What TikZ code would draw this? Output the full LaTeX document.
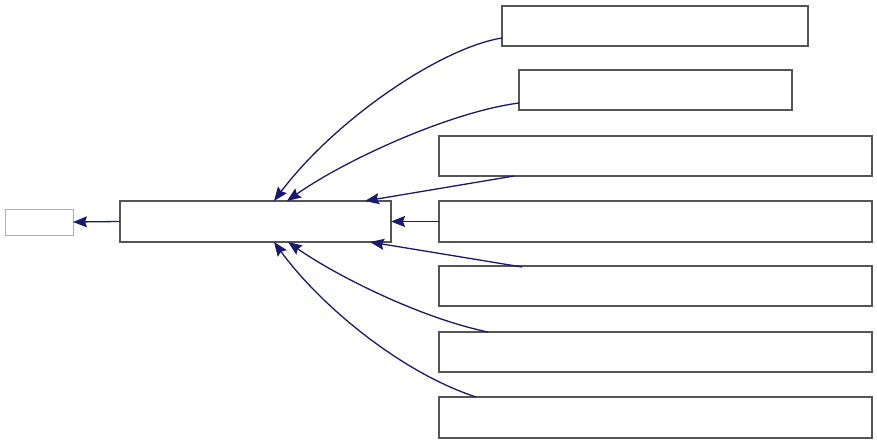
\documentclass[tikz,border=0pt]{standalone}
\usetikzlibrary{arrows.meta,calc}
\definecolor{edgeblue}{RGB}{25,25,112}
\definecolor{boxgray}{RGB}{85,85,85}
\definecolor{lightgray2}{RGB}{170,180,170}
\begin{document}
\begin{tikzpicture}[x=1pt,y=-1pt,
  box/.style={draw=boxgray,line width=1.6pt,fill=white,rectangle,inner sep=0pt,outer sep=0pt,anchor=north west},
  lbox/.style={box,draw=lightgray2,line width=1pt},
  edge/.style={draw=edgeblue,line width=1.3pt,-{Stealth[length=14pt,width=11pt,inset=2pt]}}]
\useasboundingbox (0,0) rectangle (877,444);
\node[lbox,minimum width=68pt,minimum height=26pt] (L) at (5,209) {};
\node[box,minimum width=271pt,minimum height=41pt] (M) at (120,201) {};
\node[box,minimum width=306pt,minimum height=40pt] (b1) at (502,6) {};
\node[box,minimum width=273pt,minimum height=40pt] (b2) at (519,70) {};
\node[box,minimum width=433pt,minimum height=40pt] (b3) at (439,136) {};
\node[box,minimum width=433pt,minimum height=41pt] (b4) at (439,201) {};
\node[box,minimum width=433pt,minimum height=40pt] (b5) at (439,266) {};
\node[box,minimum width=433pt,minimum height=40pt] (b6) at (439,332) {};
\node[box,minimum width=433pt,minimum height=41pt] (b7) at (439,397) {};
% edges
\coordinate (s1) at ($(b1.north west)+(0,32)$);
\coordinate (s2) at ($(b2.north west)+(0,33)$);
\coordinate (s3) at ($(b3.south west)+(75,0)$);
\coordinate (s5) at ($(b5.north west)+(83,1)$);
\coordinate (s6) at ($(b6.north west)+(49,0)$);
\coordinate (s7) at ($(b7.north west)+(37,0)$);
\coordinate (t1) at ($(M.north west)+(154,0)$);
\coordinate (t2) at ($(M.north west)+(167,0)$);
\coordinate (t3) at ($(M.north west)+(245,0)$);
\coordinate (t5) at ($(M.south west)+(250,0)$);
\coordinate (t6) at ($(M.south west)+(168,0)$);
\coordinate (t7) at ($(M.south west)+(154,0)$);
\draw[edge] (s1) .. controls (440,48) and (335,120) .. (t1);
\draw[edge] (s2) .. controls (450,112) and (345,160) .. (t2);
\draw[edge] (s3) -- (t3);
\draw[edge] (b4.west) -- (M.east);
\draw[edge] (s5) -- (t5);
\draw[edge] (s6) .. controls (420,318) and (335,275) .. (t6);
\draw[edge] (s7) .. controls (400,372) and (320,305) .. (t7);
\draw[edge] (M.west) -- (L.east);
\end{tikzpicture}
\end{document}
